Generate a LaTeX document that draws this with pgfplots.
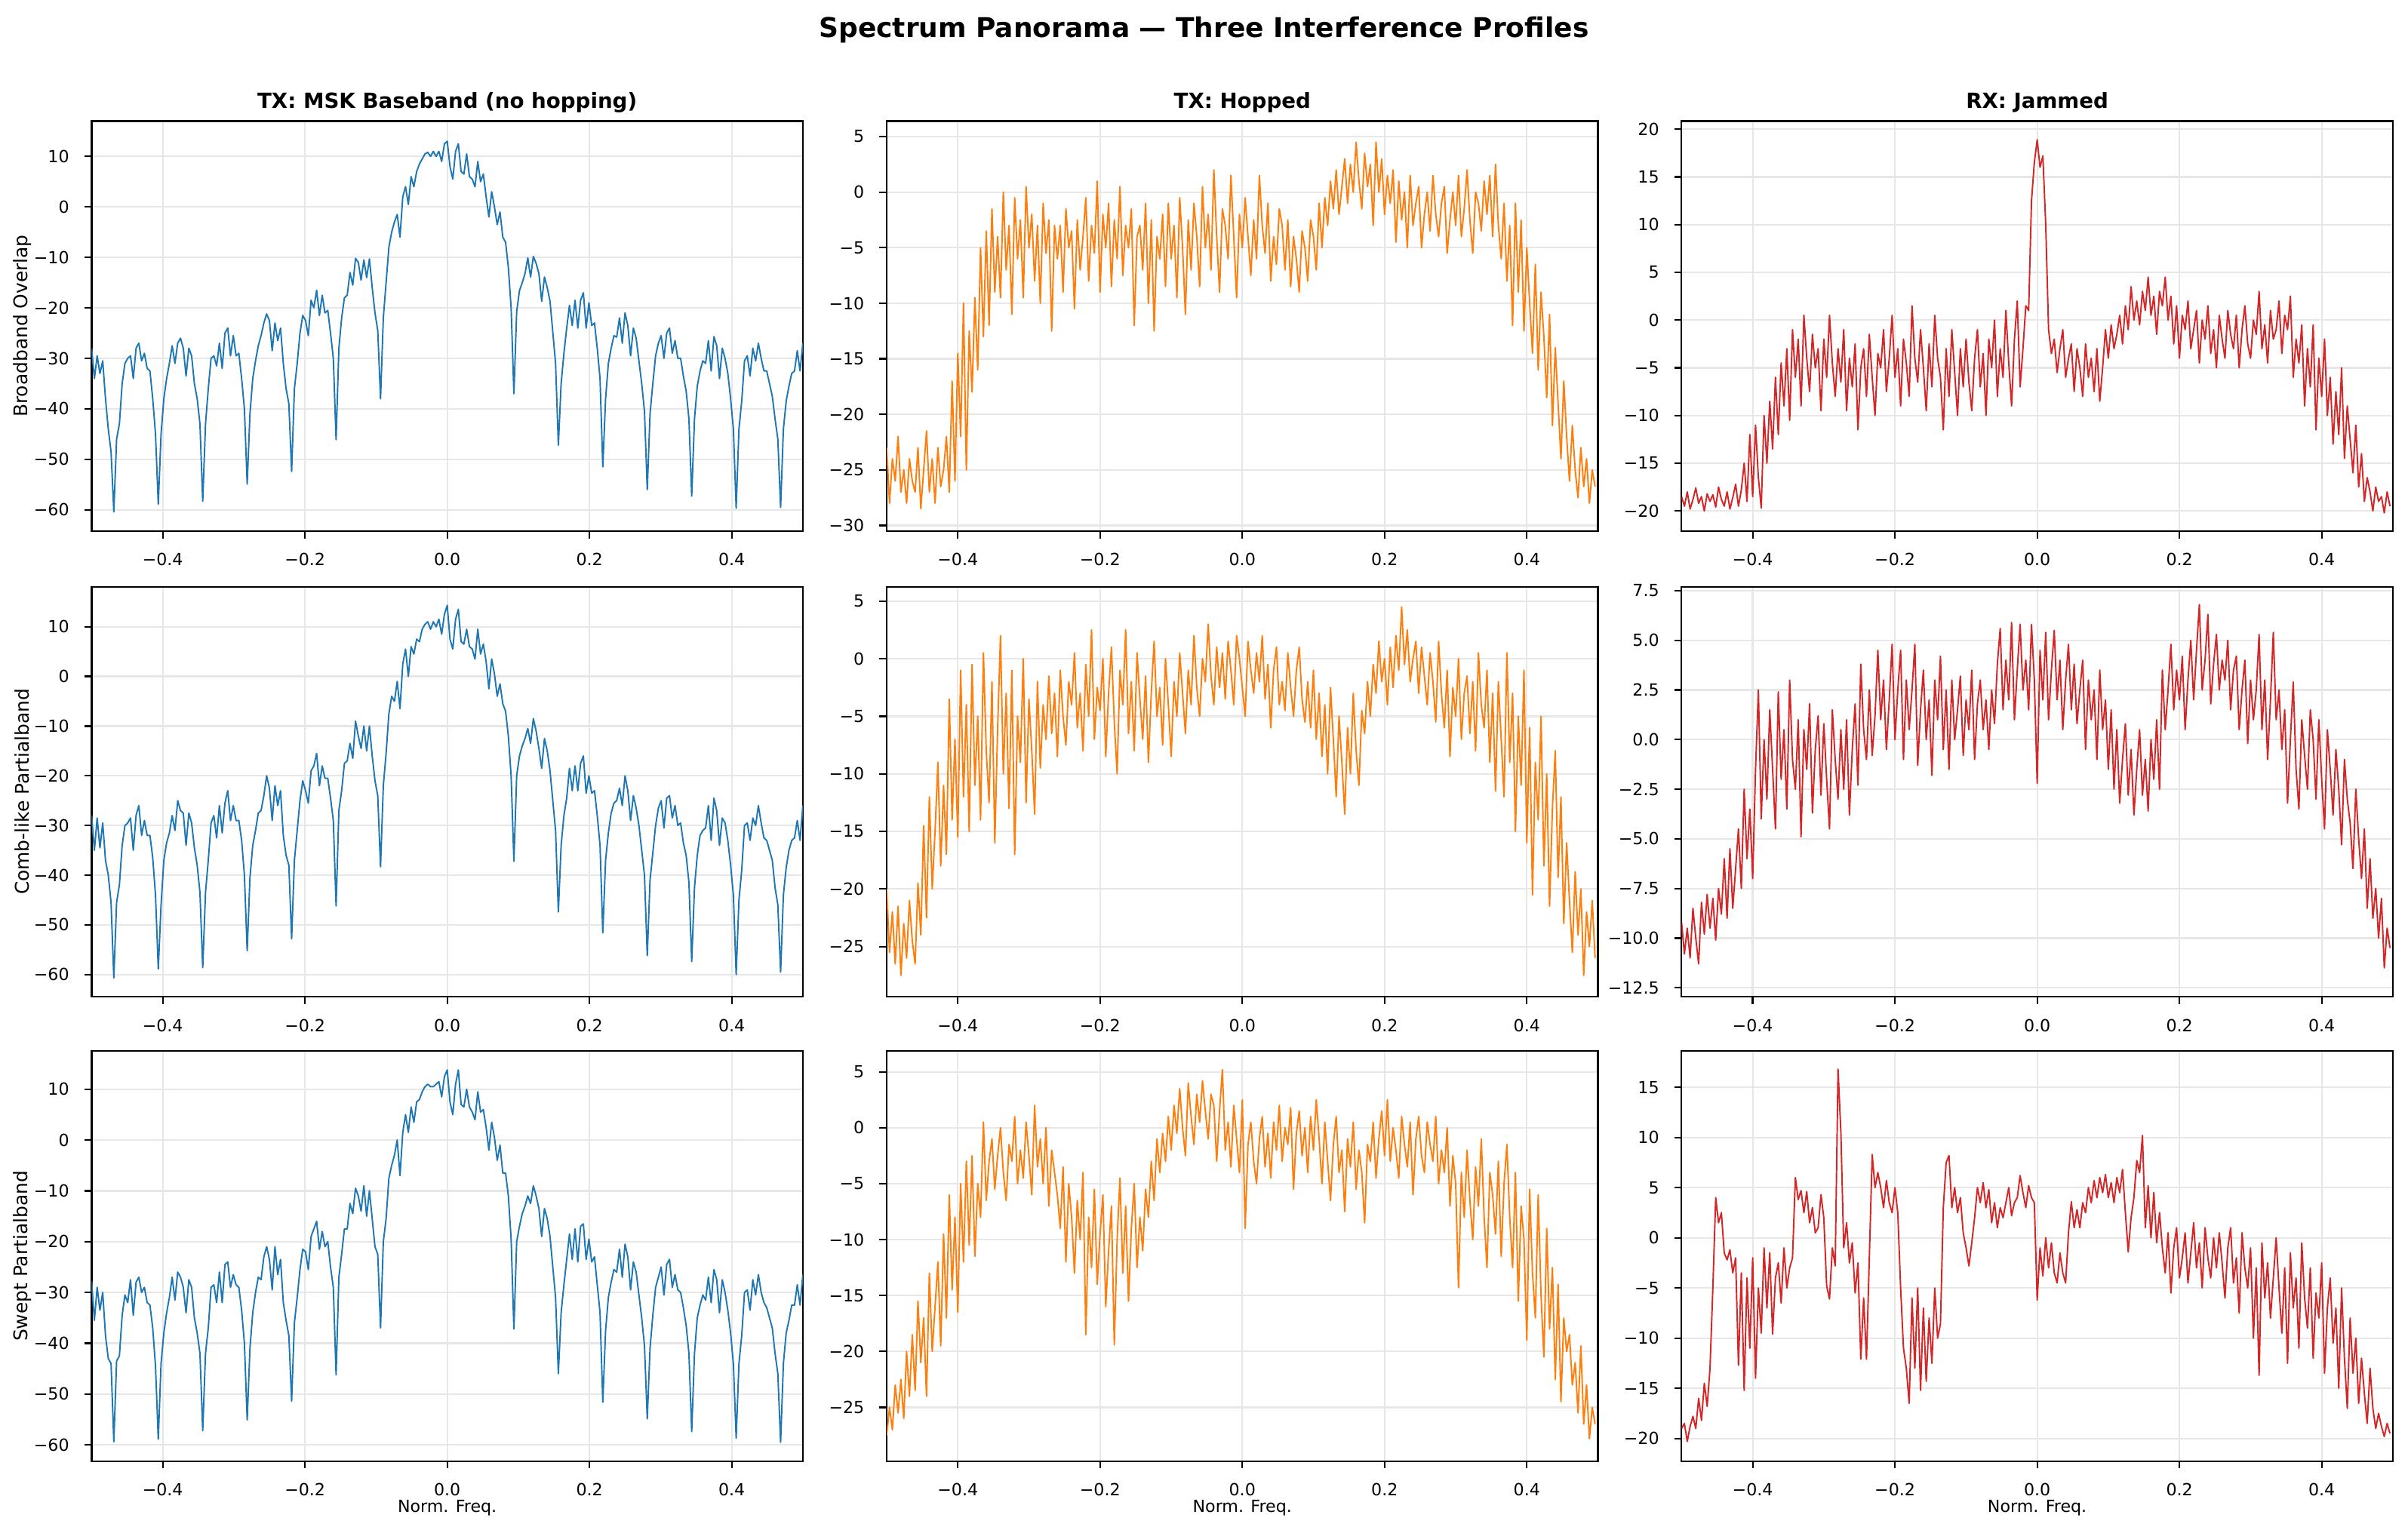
\documentclass[border=0pt]{standalone}
\usepackage{fontspec}
\setmainfont{DejaVu Sans}
\usepackage{pgfplots}
\pgfplotsset{compat=1.18}
\usepackage{pgfplotstable}

\definecolor{tabblue}{HTML}{1F77B4}
\definecolor{taborange}{HTML}{FF7F0E}
\definecolor{tabred}{HTML}{D62728}
\definecolor{gridc}{RGB}{231,231,231}

% MSK baseband spectrum (dB), 257 bins from -0.5 to 0.5; one column per interference profile
\pgfplotstableread[row sep=\\]{
a b c\\
-28 -28 -27.8\\ -34 -35 -35.5\\ -29.5 -28.5 -29\\ -33 -34.5 -33.5\\ -30.5 -29.5 -30\\
-38 -37 -38.5\\ -44 -40 -43\\ -48.5 -45.5 -44\\ -60.4 -60.7 -59.4\\ -46 -45.5 -43.5\\
-43 -42 -42.5\\ -35 -34 -34.5\\ -31 -30 -30.5\\ -30 -29.5 -32\\ -29.5 -28.5 -27.5\\
-34 -35 -34.5\\ -28 -28 -28\\ -27 -26 -27\\ -30.5 -32 -30\\ -29 -29 -29\\
-32 -32 -32\\ -32.5 -32 -32.5\\ -38 -36.5 -37\\ -45 -44 -44.5\\ -58.9 -58.9 -58.9\\
-45 -46 -44\\ -38 -37 -38\\ -34 -33.5 -34\\ -31 -31.5 -31\\ -27.5 -28 -27\\
-31 -31 -31.5\\ -27 -25 -26\\ -26 -27 -27\\ -28 -27.5 -29\\ -33.5 -34 -34\\
-28 -27.5 -27.5\\ -29.5 -29.5 -29\\ -35 -34.5 -35\\ -38 -38 -38\\ -43 -43.5 -42\\
-58.3 -58.6 -57.2\\ -43 -43.5 -42\\ -36 -37 -37\\ -30 -29.5 -29\\ -29.5 -28 -28.5\\
-31.5 -32.5 -32\\ -27 -26 -26\\ -32 -31.5 -32\\ -25 -25.5 -24.5\\ -24 -23 -24\\
-29.5 -29 -29\\ -25.5 -26 -26.5\\ -29.5 -29 -28.5\\ -29 -29 -29\\ -34 -33 -33.5\\
-40 -40 -40\\ -54.9 -55.2 -55.1\\ -41 -40.5 -41\\ -34 -34 -34\\ -30.5 -31 -30\\
-27.5 -27.5 -27\\ -25.5 -27 -27.5\\ -23 -24 -23\\ -21.2 -20 -21\\ -22.5 -22.5 -23.5\\
-28.5 -29 -29.5\\ -23 -22 -21\\ -26.5 -26 -26.5\\ -24 -23 -23.5\\ -31 -32 -32\\
-36 -36 -35.5\\ -39 -38 -38.5\\ -52.4 -52.8 -51.4\\ -36 -37 -36\\ -31 -31 -31\\
-25 -25 -25.5\\ -21.5 -21 -21.5\\ -22.5 -23 -22\\ -25.5 -25.5 -25.5\\ -18.5 -19 -19\\
-20 -18 -17.5\\ -16.5 -15.5 -16\\ -21.5 -22 -21.5\\ -17.5 -18 -18\\ -21 -20.5 -21\\
-20.5 -20.5 -20\\ -25 -24.5 -25\\ -30 -29 -29\\ -46.1 -46.2 -46.2\\ -28 -27 -27\\
-22 -23 -22.5\\ -18 -17.5 -17.5\\ -17.5 -17 -17.5\\ -13 -13.5 -12.5\\ -15.5 -16.5 -14.5\\
-10.2 -9 -9.5\\ -11 -12 -11\\ -14.5 -14.5 -14\\ -10.5 -10 -9\\ -14 -15 -15\\
-10.3 -10 -10\\ -16 -16 -15.5\\ -21 -21 -21\\ -24.5 -24 -22.5\\ -38 -38.3 -37\\
-22 -22 -20\\ -15 -15.5 -15.5\\ -8 -7.5 -7.5\\ -5 -4 -5\\ -3 -5 -3\\
-1.5 -1 0\\ -6 -6.5 -7\\ 2 2.5 1.5\\ 4 5.5 5\\ 0.5 0 1.5\\
6 6 6.5\\ 4 4.5 3.5\\ 7 7.5 7.5\\ 8.5 7 8\\ 9.5 9.5 9.5\\
10.5 10.5 10.5\\ 10.8 11 11\\ 10 9.5 10.5\\ 11 11 10.5\\ 10 10 11\\
11 11.5 11.5\\ 9 8.5 8.5\\ 12.5 12.5 12.5\\ 13 14.3 13.8\\ 8 7.5 7.5\\
5.5 5.5 5\\ 11 11.5 11\\ 12.5 13.5 13.8\\ 7 7 7\\ 6.5 6.5 6.5\\
10.5 9.5 10\\ 6 6 6.5\\ 5.5 5.5 5.5\\ 4 3.5 4\\ 9 9.5 9.5\\
5 4.5 5.5\\ 6.5 6.5 6\\ 2 3 2.5\\ -2 -2.5 -2\\ 3 3.5 3.5\\
0 0.5 0.5\\ -3.5 -4 -4\\ -1 -1.5 -1\\ -6 -5.5 -6.5\\ -7 -7 -6.5\\
-12 -12 -11\\ -20 -20 -19.5\\ -37 -37.2 -37.2\\ -20.7 -20 -20\\ -16.6 -16 -17\\
-15 -14 -14.5\\ -13.2 -12.5 -13\\ -10.1 -10.5 -11\\ -13.9 -13.5 -12.5\\ -9.8 -8.5 -9\\
-11.2 -11 -11\\ -13.2 -14.5 -13.5\\ -18.7 -18.5 -19\\ -13.9 -12.5 -13.5\\ -16 -15 -15.5\\
-18.7 -19 -19\\ -24.8 -25 -25\\ -31 -31 -31\\ -47.2 -47.4 -46\\ -35 -34 -34\\
-29 -28 -28.5\\ -24 -24.5 -23.5\\ -19.5 -18.5 -18.5\\ -23.5 -23 -23.5\\ -18.5 -18 -17.5\\
-24 -23 -24\\ -18.5 -17.5 -17\\ -17 -16 -16.5\\ -24 -23.5 -23.5\\ -19 -20 -19.5\\
-23.5 -23.5 -24\\ -23 -23 -23\\ -28 -28 -28.5\\ -34 -34 -34\\ -51.5 -51.6 -51.6\\
-38 -37 -37.5\\ -31 -31.5 -31\\ -28 -27.5 -28\\ -25.5 -25.5 -25.5\\ -25.8 -25 -26\\
-22 -22.5 -21.5\\ -27 -26 -27\\ -21 -20 -20.5\\ -23.5 -23 -23\\ -29.5 -29 -29.5\\
-24 -24 -24\\ -26 -26.5 -26\\ -30.5 -30 -30.5\\ -35 -35 -35\\ -40.5 -40 -40.5\\
-56 -56.2 -54.9\\ -41 -41 -41\\ -35 -35.5 -34.5\\ -29.5 -30 -29\\ -27 -26.5 -27\\
-25.5 -25 -25\\ -30 -30.5 -30.5\\ -25 -24.5 -24.5\\ -24 -24 -23.5\\ -29 -28.5 -29\\
-26.5 -26 -26.5\\ -30 -30 -29.5\\ -30 -29.5 -30\\ -33.5 -33.5 -33\\ -36.5 -36 -36.5\\
-42 -41.5 -42\\ -57.3 -57.4 -57.4\\ -42 -42.5 -42\\ -35.5 -36 -35\\ -32.5 -32 -32.5\\
-30.5 -31 -30.5\\ -31 -30.5 -31.5\\ -26.5 -26 -27\\ -32.5 -33 -32\\ -25.7 -24.5 -25.5\\
-27.5 -27 -27.5\\ -34 -34 -34\\ -28 -28.5 -27.5\\ -30 -29.5 -30\\ -33 -33 -33.5\\
-38 -38 -38\\ -44 -44 -44\\ -59.7 -60 -58.7\\ -44 -45 -44\\ -38.5 -39 -38.5\\
-30.5 -30 -30\\ -29.5 -29.5 -29.5\\ -33.5 -33 -33.5\\ -28 -28.5 -27.5\\ -30.5 -30 -30.5\\
-27 -26 -26.5\\ -30 -29.5 -30\\ -32.5 -32.5 -32\\ -32.5 -33 -33\\ -35 -35 -35\\
-37.5 -37 -37\\ -42 -42.5 -42\\ -46 -46 -46\\ -59.5 -59.5 -59.5\\ -44 -44 -44\\
-38.5 -38.5 -38\\ -35.5 -35 -35.5\\ -33 -33 -32.5\\ -32.5 -32.5 -32.5\\ -28.5 -29 -28.5\\
-32.5 -33 -32.5\\ -27 -26 -26.5\\
}\msk

% Hopped transmitter spectra (dB), 250 bins, step 0.004 from -0.5
\pgfplotstableread[row sep=\\]{
y\\
-23\\ -28\\ -24\\ -26\\ -22\\ -27\\ -25\\ -28\\ -24\\ -26\\
-27\\ -23\\ -28.5\\ -25\\ -21.5\\ -27\\ -24\\ -28\\ -23\\ -26.5\\
-25\\ -22\\ -27\\ -17\\ -26\\ -14.5\\ -22\\ -10\\ -25\\ -12.5\\
-18\\ -9.5\\ -16\\ -5\\ -13\\ -3.5\\ -12\\ -1.5\\ -9\\ -4\\
-9.5\\ 0\\ -7\\ -3\\ -11\\ -0.5\\ -6\\ -2.5\\ -9.5\\ 0.5\\
-5\\ -2\\ -8\\ -3\\ -10\\ -1\\ -5.5\\ -2.5\\ -12.5\\ -3\\
-6\\ -3\\ -9\\ -1.5\\ -5\\ -3.5\\ -10.5\\ -2.5\\ -7\\ -4\\
-0.5\\ -8\\ -3\\ -5.5\\ 1\\ -9\\ -2\\ -5\\ -1\\ -8.5\\
-2.5\\ -6\\ 0.5\\ -7.5\\ -3\\ -5\\ -1.5\\ -12\\ -4\\ -3\\
-7\\ -1\\ -10\\ -2.5\\ -12.5\\ -4\\ -6\\ -2\\ -8.5\\ -1\\
-6\\ -3\\ -9.5\\ -0.5\\ -5\\ -11\\ -2.5\\ -7\\ -1\\ -4\\
-8.5\\ 0.5\\ -5\\ -2\\ -7\\ 2\\ -4\\ -9\\ -1.5\\ -3\\
-6\\ 1.5\\ -4\\ -9.5\\ -2\\ -5\\ -0.5\\ -4\\ -7.5\\ -2.5\\
-6\\ 1.5\\ -3\\ -5.5\\ -1\\ -8\\ -4\\ -6.5\\ -1.5\\ -3\\
-7\\ -2.5\\ -8.5\\ -4\\ -6\\ -9\\ -3.5\\ -5\\ -8\\ -2.5\\
-4\\ -7\\ -1\\ -5\\ -0.5\\ -3\\ 1\\ -1.5\\ 2\\ -2\\
0.5\\ 3\\ -1\\ 2.5\\ 0\\ 4.5\\ 1\\ -1.5\\ 3.5\\ 0.5\\
2.5\\ -3\\ 4.5\\ 0\\ 3\\ -2\\ 1.5\\ -1\\ 2\\ -4.5\\
1\\ -2.5\\ 0\\ -5\\ 1.5\\ -3\\ -1\\ 0.5\\ -5\\ -2\\
0\\ -3.5\\ 1.5\\ -2\\ -4\\ -1\\ 0.5\\ -5.5\\ -2.5\\ 0\\
-3\\ 1.5\\ -4\\ -1.5\\ 2\\ -2.5\\ -5.5\\ 0\\ -1\\ -3.5\\
1\\ -2\\ 1.5\\ -4\\ 2.5\\ -3\\ -6\\ -1\\ -8\\ -3\\
-12\\ -1\\ -9\\ -2.5\\ -12.5\\ -5\\ -10\\ -14.5\\ -6.5\\ -16\\
-9\\ -13\\ -18.5\\ -11\\ -21\\ -14\\ -19\\ -24\\ -17\\ -22\\
-26\\ -21\\ -25\\ -27.5\\ -23\\ -26.5\\ -24\\ -28\\ -25\\ -26.5\\
}\hopA

\pgfplotstableread[row sep=\\]{
y\\
-20\\ -25.5\\ -22\\ -26.5\\ -21.5\\ -27.5\\ -23\\ -26\\ -21\\ -24.5\\
-26.5\\ -19.5\\ -24\\ -14.5\\ -22.5\\ -12\\ -20\\ -15\\ -9\\ -18\\
-11\\ -17\\ -3.5\\ -14\\ -7\\ -15.5\\ -1\\ -12\\ -4\\ -15\\
-0.5\\ -11\\ -5\\ -14\\ 0.5\\ -8\\ -12.5\\ -2\\ -16\\ -6\\
2\\ -10\\ -3\\ -13\\ -1\\ -17\\ -5\\ -9\\ 0\\ -12.5\\
-3.5\\ -8\\ -13.5\\ -2\\ -9.5\\ -4\\ -7\\ -1.5\\ -6.5\\ -3\\
-8.5\\ -1\\ -5\\ -7.5\\ -2\\ -4\\ 0.5\\ -6\\ -3\\ -8\\
-0.5\\ -5\\ 2.5\\ -7\\ -2.5\\ -4.5\\ 0\\ -8.5\\ -3\\ 1\\
-5.5\\ -10\\ -1\\ -4\\ 2.5\\ -6.5\\ -2\\ -8\\ 0.5\\ -3.5\\
-7\\ -1.5\\ -9\\ -3\\ 1.5\\ -5\\ -2.5\\ -7.5\\ 0\\ -4\\
-8.5\\ -2\\ -5\\ 0.5\\ -3\\ -6.5\\ -1\\ -4\\ 2\\ -2.5\\
-5\\ 0\\ -2\\ 3\\ -1.5\\ -4\\ 1\\ -2.5\\ 0.5\\ -3.5\\
1.5\\ -1\\ -4\\ 2\\ 0\\ -2.5\\ -5\\ 1.5\\ -1\\ -3\\
0.5\\ -2\\ 2\\ -3.5\\ -0.5\\ -6\\ -1\\ 1\\ -4\\ -2\\
-4.5\\ 0.5\\ -2.5\\ -5\\ -1\\ 1\\ -3.5\\ -5.5\\ -2\\ -6\\
-1\\ -7\\ -3\\ -8.5\\ -4\\ -10\\ -2.5\\ -7\\ -12\\ -5\\
-9\\ -13.5\\ -6\\ -10\\ -3\\ -8\\ -11\\ -4.5\\ -6.5\\ -2\\
-5\\ -0.5\\ -3\\ 1.5\\ -2\\ 0\\ -4\\ 1\\ -2.5\\ 2\\
-1\\ 4.5\\ -0.5\\ 2.5\\ -2\\ 0\\ 1.5\\ -3\\ 1\\ -1.5\\
-4\\ 0.5\\ -2\\ -5.5\\ 1.5\\ -3\\ -6\\ -1\\ -8.5\\ -2.5\\
-5\\ 0\\ -7\\ -3\\ -1.5\\ -6.5\\ -2\\ -8\\ 0.5\\ -4\\
-6\\ -1\\ -9\\ -3\\ -11.5\\ -2\\ -7\\ -12\\ 0.5\\ -9\\
-3\\ -15\\ -5\\ -11\\ -1\\ -16\\ -6\\ -20.5\\ -9\\ -14\\
-5\\ -18\\ -10\\ -21.5\\ -13\\ -8\\ -19\\ -12\\ -23\\ -16\\
-21\\ -25.5\\ -18.5\\ -24\\ -20\\ -27.5\\ -22\\ -25\\ -21\\ -26\\
}\hopB

\pgfplotstableread[row sep=\\]{
y\\
-27.5\\ -25\\ -27\\ -23\\ -25.5\\ -22.5\\ -26\\ -20\\ -24\\ -18.5\\
-23.5\\ -15.5\\ -21\\ -17\\ -24\\ -13\\ -20\\ -16\\ -12\\ -19.5\\
-9.5\\ -17\\ -6\\ -14.5\\ -8\\ -16.5\\ -5\\ -12\\ -3\\ -10.5\\
-2.5\\ -11.5\\ -5\\ -8\\ 0.5\\ -6.5\\ -3\\ -1\\ -5.5\\ -2.5\\
0\\ -4\\ -6.5\\ -1.5\\ -3\\ 1\\ -5\\ -2\\ -4.5\\ 0.5\\
-2.5\\ -6\\ 2\\ -3.5\\ -1\\ -5\\ 0\\ -7\\ -2\\ -4\\
-6\\ -9\\ -3.5\\ -12\\ -5\\ -8\\ -13\\ -6.5\\ -10\\ -4\\
-18.5\\ -8\\ -12.5\\ -5.5\\ -14\\ -9.5\\ -6\\ -16\\ -11\\ -7\\
-19.4\\ -10\\ -4.5\\ -13\\ -7\\ -15.5\\ -9\\ -5\\ -12.5\\ -8\\
-11\\ -5.5\\ -8\\ -3\\ -6.5\\ -1\\ -4\\ -0.5\\ -3\\ 1\\
-2\\ 2\\ -0.5\\ 3.5\\ 0\\ -2.5\\ 4\\ 1\\ -1.5\\ 3\\
0.5\\ 4.2\\ 1.5\\ -1\\ 3\\ 2\\ -3\\ 1.5\\ 5.2\\ -2\\
0.5\\ -3.5\\ 2\\ -1\\ -4\\ 2.5\\ -9\\ -1.5\\ 0.5\\ -3\\
-5\\ -1\\ 1\\ -3.5\\ -0.5\\ -4.5\\ 0.5\\ -2\\ 2\\ -3\\
0\\ -1.5\\ 1.8\\ -5.5\\ -0.5\\ 1.5\\ -2.5\\ 0\\ -4\\ 1\\
-2\\ 2.5\\ -1\\ -5\\ 0.5\\ -3\\ -6.5\\ -1.5\\ 1\\ -4\\
-2\\ -7.5\\ -1\\ -3.5\\ 0.5\\ -5.5\\ -2\\ -4\\ -8.5\\ -1.5\\
-3\\ 0.5\\ -4.5\\ -1\\ 1.5\\ -2.5\\ 2.5\\ -3\\ 0\\ -2\\
-4.5\\ 1\\ -1.5\\ -3.5\\ 0.5\\ -6\\ -1\\ 1\\ -2.5\\ -4\\
0.5\\ -1.5\\ -3\\ 1\\ -5\\ -2\\ -4\\ 0\\ -7\\ -2.5\\
-5\\ -14.3\\ -4\\ -8\\ -2\\ -6.5\\ -10\\ -3.5\\ -7\\ -1\\
-8\\ -12.5\\ -4\\ -6\\ -9.5\\ -3\\ -11.5\\ -5\\ -1.5\\ -8\\
-12.5\\ -4\\ -15.5\\ -7\\ -10\\ -19\\ -5.5\\ -13\\ -17\\ -6\\
-15\\ -20.5\\ -9\\ -18\\ -12.5\\ -22.5\\ -14\\ -24.5\\ -17\\ -20\\
-18.5\\ -23\\ -21\\ -25.5\\ -19.5\\ -26.5\\ -23\\ -27.8\\ -25\\ -26.5\\
}\hopC

% Jammed receiver spectra (dB), 250 bins, step 0.004 from -0.5
\pgfplotstableread[row sep=\\]{
y\\
-18.5\\ -19.5\\ -18\\ -19.8\\ -18.8\\ -17.6\\ -19.2\\ -18.5\\ -20\\ -18.2\\
-19\\ -18.3\\ -19.6\\ -17.5\\ -18.8\\ -19.5\\ -18\\ -19.8\\ -18.6\\ -17.2\\
-19.5\\ -17.8\\ -15\\ -19\\ -12\\ -18.5\\ -11\\ -16.5\\ -19.7\\ -10\\
-15\\ -8.5\\ -13.5\\ -6\\ -12\\ -4.5\\ -9\\ -3\\ -10.5\\ -1\\
-6\\ -2\\ -9\\ 0.5\\ -4\\ -7.5\\ -1.5\\ -5\\ -3\\ -9.5\\
-2\\ -6\\ 0.5\\ -4.5\\ -8\\ -3\\ -6.5\\ -1\\ -9.5\\ -4\\
-7\\ -2.5\\ -11.5\\ -5\\ -3\\ -8\\ -1.5\\ -6\\ -10\\ -3.5\\
-5\\ -1\\ -7.5\\ -4\\ 0.5\\ -6\\ -3\\ -9\\ -2\\ -4.5\\
-8\\ 1.5\\ -4\\ -6.5\\ -1\\ -5\\ -9.5\\ -2.5\\ -7\\ 0.5\\
-4\\ -6\\ -11.5\\ -3\\ -8\\ -1\\ -5.5\\ -10\\ -3\\ -7\\
-2\\ -6.5\\ -9.5\\ -4\\ -1\\ -7\\ -3.5\\ -10\\ -2\\ -5\\
0\\ -8\\ -3\\ -6\\ 1\\ -4.5\\ -9\\ -2\\ 2\\ -7\\
-3\\ 1.5\\ 1\\ 12.5\\ 16.5\\ 18.9\\ 16\\ 17.2\\ 10\\ -1\\
-3.5\\ -2\\ -5.5\\ -3\\ -1\\ -6\\ -4\\ -2.5\\ -7.5\\ -3\\
-5\\ -8\\ -2.5\\ -6\\ -4\\ -7.5\\ -3\\ -8.5\\ -5\\ -1\\
-4\\ -0.5\\ -3\\ -1.5\\ 0.5\\ -2.5\\ 1.5\\ -1\\ 3.5\\ 0\\
2\\ -0.5\\ 3\\ 1\\ 4.5\\ 0.5\\ 2.5\\ -1.5\\ 3\\ 1.5\\
4.5\\ 0\\ 2.5\\ -2.5\\ 1.5\\ -4\\ 0.5\\ -1\\ 2\\ -3\\
-1\\ 1\\ -4.5\\ 0\\ -2\\ 1.5\\ -3.5\\ -1\\ -5\\ 0.5\\
-2\\ -4\\ 1\\ -1.5\\ -3\\ 0.5\\ -5\\ -1\\ 1.5\\ -2.5\\
-4\\ 0\\ -1.5\\ 3\\ -3\\ -0.5\\ -4.5\\ 1\\ -2\\ -1\\
2\\ -3.5\\ 0.5\\ -1\\ 2.5\\ -6\\ -2\\ -4.5\\ -0.5\\ -9\\
-3\\ -7\\ -0.5\\ -11.5\\ -4\\ -8\\ -2\\ -10\\ -6\\ -13\\
-7.5\\ -12\\ -5\\ -14.5\\ -9\\ -12.5\\ -16\\ -11\\ -17.5\\ -14\\
-19\\ -16.5\\ -18\\ -20\\ -17.5\\ -19\\ -18.5\\ -20.2\\ -18\\ -19.5\\
}\jamA

\pgfplotstableread[row sep=\\]{
y\\
-9.2\\ -10.8\\ -9.5\\ -11\\ -8.5\\ -10\\ -11.3\\ -8.2\\ -9.8\\ -7.8\\
-9.5\\ -8\\ -10.1\\ -7.5\\ -8.8\\ -6\\ -9\\ -5.5\\ -8.5\\ -6.5\\
-4.5\\ -7.5\\ -2.5\\ -6\\ -3.5\\ -7\\ -1.5\\ 2.5\\ -4\\ 0\\
-3\\ 1.5\\ -1.5\\ -4.5\\ 2.4\\ -2\\ 0.5\\ -3.5\\ 3\\ -1\\
-2.5\\ 1\\ -4.9\\ 0.5\\ -1.5\\ 1.8\\ -3.7\\ -0.5\\ 1.2\\ -2.8\\
0.8\\ -2\\ -4.5\\ 1.5\\ -1\\ -3\\ 0.5\\ -2.5\\ 1\\ -3.8\\
-0.5\\ 1.8\\ -2.3\\ 3.8\\ 0.5\\ -1\\ 2.5\\ -0.8\\ 1.2\\ 4.5\\
1\\ 3\\ -0.5\\ 2\\ 4.8\\ 0\\ 2.5\\ 4.5\\ -1\\ 3\\
0.5\\ 2.5\\ 4.8\\ -1.3\\ 1.5\\ 3.5\\ 0\\ 2\\ -1.8\\ 3\\
1\\ 4.2\\ -0.5\\ 2.5\\ -1.5\\ 3\\ 0\\ 1.5\\ 3.2\\ -0.8\\
2\\ 0.5\\ 3.5\\ -1\\ 1.8\\ 3\\ 0.5\\ 2\\ -0.5\\ 2.5\\
0.8\\ 3.8\\ 5.6\\ 1.5\\ 4\\ 2\\ 5.9\\ 1\\ 3.5\\ 5.8\\
2.5\\ 4\\ 1.5\\ 5.8\\ 3\\ -2.2\\ 4.5\\ 2\\ 5.4\\ 1\\
3.5\\ 5.5\\ 2\\ 4\\ 0.5\\ 3\\ 4.8\\ 1.5\\ 3.8\\ 0.8\\
2.5\\ 4\\ -0.5\\ 3\\ 1\\ 2.5\\ -1\\ 3.5\\ 0.5\\ 2\\
-1.5\\ 1.5\\ -2.5\\ 0.5\\ -3.2\\ -1\\ 0.8\\ -2.8\\ -0.5\\ -3.8\\
-1.5\\ 0.5\\ -2.8\\ -1\\ -3.6\\ 0\\ -2\\ 1\\ -2.5\\ 3.5\\
0.5\\ 2.5\\ 4.8\\ 1.5\\ 3.5\\ 2\\ 4.2\\ 0.5\\ 3\\ 5\\
2\\ 4.5\\ 6.8\\ 2.5\\ 4\\ 6.3\\ 1.8\\ 3.8\\ 5.3\\ 2.5\\
4\\ 3\\ 5\\ 1.5\\ 3.5\\ 4.2\\ 0.5\\ 2.5\\ 4\\ -0.2\\
3\\ 1\\ 2.5\\ 5.3\\ 0.5\\ 3\\ -1\\ 2\\ 5.4\\ 1\\
2.5\\ -0.5\\ 1.5\\ -3.2\\ 0\\ 2.9\\ -1.5\\ -3.5\\ 1\\ -0.8\\
-2.5\\ 1.5\\ 0\\ -3\\ 1\\ -2\\ -4.5\\ 0.5\\ -1.5\\ -3.8\\
-0.5\\ -2.5\\ -5.3\\ -1\\ -3\\ -4.2\\ -6.5\\ -2.5\\ -5\\ -7\\
-4.5\\ -8.5\\ -6\\ -9\\ -7.5\\ -10\\ -8\\ -11.5\\ -9.5\\ -10.5\\
}\jamB

\pgfplotstableread[row sep=\\]{
y\\
-19\\ -18.5\\ -20.3\\ -18.8\\ -17.8\\ -19\\ -16\\ -18.2\\ -14.5\\ -16.8\\
-13\\ -5\\ 4\\ 1.5\\ 2.5\\ -1.5\\ -2.2\\ -1.2\\ -3.5\\ -2\\
-12.7\\ -3.5\\ -15.2\\ -4\\ -11\\ -2\\ -14\\ -5\\ -9.5\\ -1\\
-7\\ -1.5\\ -9.6\\ -4\\ -2.5\\ -6.5\\ -1\\ -5\\ -3\\ -2\\
6\\ 3.8\\ 4.7\\ 2.5\\ 4.6\\ 1.5\\ 3\\ 0.5\\ 1\\ 4.3\\
2\\ -4.8\\ -6.1\\ -1\\ -2.8\\ 16.8\\ 10.5\\ -1\\ 1.5\\ -2.5\\
-0.5\\ -5.5\\ -2.5\\ -12.1\\ -6\\ -12.1\\ -2\\ 8.3\\ 5\\ 6.5\\
5\\ 3\\ 5.7\\ 3.5\\ 2.5\\ 5\\ 2.5\\ -5\\ -11\\ -13\\
-16.5\\ -6\\ -13\\ -5\\ -15.2\\ -7\\ -14.3\\ -8\\ -12.5\\ -5\\
-10\\ -8.6\\ 3\\ 7.5\\ 8.2\\ 3\\ 5\\ 2.5\\ 4\\ 0.5\\
-1\\ -2.8\\ -0.5\\ 2\\ 5\\ 3.5\\ 5.5\\ 3\\ 4.8\\ 1.5\\
3.5\\ 1\\ 3\\ 2\\ 3.5\\ 5\\ 2.2\\ 3.5\\ 4\\ 6.2\\
4.5\\ 3\\ 5.2\\ 4\\ 3.5\\ -6.2\\ -1\\ -3.8\\ 0\\ -3\\
-0.5\\ -3.5\\ -4.5\\ -1.5\\ -3.5\\ -4.5\\ 0.5\\ 3.6\\ 1\\ 2.8\\
1\\ 3.5\\ 2.5\\ 5\\ 3.5\\ 5.7\\ 4\\ 6\\ 4.5\\ 6.3\\
4\\ 5.5\\ 3.5\\ 6\\ 4.5\\ 6.8\\ 2.5\\ -1.4\\ 2\\ 4\\
7.7\\ 6.5\\ 10.2\\ 1\\ 5.2\\ 0\\ 4.5\\ -0.5\\ 2.5\\ -1\\
-3.5\\ 0.5\\ -5.5\\ -1\\ 1\\ -4\\ -2\\ 0.5\\ -4.5\\ -1.5\\
1.5\\ -3\\ -0.5\\ -5\\ 1\\ -2\\ -4\\ 0\\ -3\\ 0.5\\
-2.5\\ -6\\ -1\\ 1\\ -4.5\\ -2\\ -7.5\\ 0.5\\ -3\\ -5\\
-1\\ -10\\ -3\\ -13.7\\ -0.5\\ -6\\ -2.5\\ -8\\ -4\\ 0\\
-5\\ -9.5\\ -3\\ -12.5\\ -1.5\\ -7\\ -4\\ -11\\ -0.5\\ -6\\
-9\\ -3\\ -12\\ -5.5\\ -8\\ -2.5\\ -13.5\\ -7\\ -4\\ -10.5\\
-7\\ -15\\ -5\\ -12\\ -17\\ -8\\ -13.5\\ -10\\ -16.5\\ -12\\
-15.5\\ -18.5\\ -13\\ -17\\ -19\\ -17.5\\ -18.8\\ -19.8\\ -18.5\\ -19.5\\
}\jamC

\pgfplotsset{
  panel/.style={
    scale only axis, width=339.3bp, height=195.6bp, anchor=south west,
    xmin=-0.5, xmax=0.5,
    xtick={-0.4,-0.2,0,0.2,0.4},
    xticklabels={−0.4,−0.2,0.0,0.2,0.4},
    tick align=outside, tick pos=left,
    major tick length=3.5bp,
    every tick/.append style={black, line width=0.8bp},
    axis line style={line width=0.8bp},
    grid=major, major grid style={line width=0.8bp, color=gridc},
    ticklabel style={font=\fontsize{8}{9.6}\selectfont},
    xticklabel style={anchor=base, inner sep=0pt, yshift=-13.1bp},
    yticklabel style={anchor=east, inner sep=0pt, xshift=-7bp},
    every axis title/.style={at={(0.5,1)}, anchor=base, yshift=6bp,
      font=\fontsize{10}{12}\selectfont\bfseries},
    every axis y label/.style={at={(0,0.5)}, xshift=-33.1bp, rotate=90,
      anchor=center, font=\fontsize{9}{10.8}\selectfont},
    every axis x label/.style={at={(0.5,0)}, anchor=base, yshift=-24.5bp,
      font=\fontsize{8}{9.6}\selectfont},
  },
  mskticks/.style={ytick={-60,-50,...,10}, yticklabels={−60,−50,−40,−30,−20,−10,0,10}},
  msk/.style={tabblue, line width=0.7bp, line join=round},
  hop/.style={taborange, line width=0.7bp, line join=round},
  jam/.style={tabred, line width=0.7bp, line join=round},
}

\begin{document}
\begin{tikzpicture}
\useasboundingbox (0,0) rectangle (1148.76bp,730.08bp);
\node[anchor=base, font=\fontsize{13}{15.6}\selectfont\bfseries] at (574.38bp,712.1bp)
  {Spectrum Panorama — Three Interference Profiles};

% Row 1: broadband overlap
\begin{axis}[panel, at={(43.7bp,476.7bp)}, ymin=-64.2, ymax=17.0, mskticks,
  title={TX: MSK Baseband (no hopping)}, ylabel={Broadband Overlap}]
\addplot[msk] table[x expr=\coordindex/256-0.5, y=a] {\msk};
\end{axis}
\begin{axis}[panel, at={(423.0bp,476.7bp)}, ymin=-30.5, ymax=6.4,
  ytick={-30,-25,...,5}, yticklabels={−30,−25,−20,−15,−10,−5,0,5},
  title={TX: Hopped}]
\addplot[hop] table[x expr=\coordindex*0.004-0.5, y=y] {\hopA};
\end{axis}
\begin{axis}[panel, at={(802.2bp,476.7bp)}, ymin=-22.1, ymax=20.85,
  ytick={-20,-15,...,20}, yticklabels={−20,−15,−10,−5,0,5,10,15,20},
  title={RX: Jammed}]
\addplot[jam] table[x expr=\coordindex*0.004-0.5, y=y] {\jamA};
\end{axis}

% Row 2: comb-like partialband
\begin{axis}[panel, at={(43.7bp,254.5bp)}, ymin=-64.45, ymax=18.05, mskticks,
  ylabel={Comb-like Partialband}]
\addplot[msk] table[x expr=\coordindex/256-0.5, y=b] {\msk};
\end{axis}
\begin{axis}[panel, at={(423.0bp,254.5bp)}, ymin=-29.35, ymax=6.25,
  ytick={-25,-20,...,5}, yticklabels={−25,−20,−15,−10,−5,0,5}]
\addplot[hop] table[x expr=\coordindex*0.004-0.5, y=y] {\hopB};
\end{axis}
\begin{axis}[panel, at={(802.2bp,254.5bp)}, ymin=-12.95, ymax=7.7,
  ytick={-12.5,-10,...,7.5},
  yticklabels={−12.5,−10.0,−7.5,−5.0,−2.5,0.0,2.5,5.0,7.5}]
\addplot[jam] table[x expr=\coordindex*0.004-0.5, y=y] {\jamB};
\end{axis}

% Row 3: swept partialband
\begin{axis}[panel, at={(43.7bp,32.9bp)}, ymin=-63.2, ymax=17.5, mskticks,
  ylabel={Swept Partialband}, xlabel={Norm. Freq.}]
\addplot[msk] table[x expr=\coordindex/256-0.5, y=c] {\msk};
\end{axis}
\begin{axis}[panel, at={(423.0bp,32.9bp)}, ymin=-29.8, ymax=6.85,
  ytick={-25,-20,...,5}, yticklabels={−25,−20,−15,−10,−5,0,5},
  xlabel={Norm. Freq.}]
\addplot[hop] table[x expr=\coordindex*0.004-0.5, y=y] {\hopC};
\end{axis}
\begin{axis}[panel, at={(802.2bp,32.9bp)}, ymin=-22.25, ymax=18.6,
  ytick={-20,-15,...,15}, yticklabels={−20,−15,−10,−5,0,5,10,15},
  xlabel={Norm. Freq.}]
\addplot[jam] table[x expr=\coordindex*0.004-0.5, y=y] {\jamC};
\end{axis}
\end{tikzpicture}
\end{document}
